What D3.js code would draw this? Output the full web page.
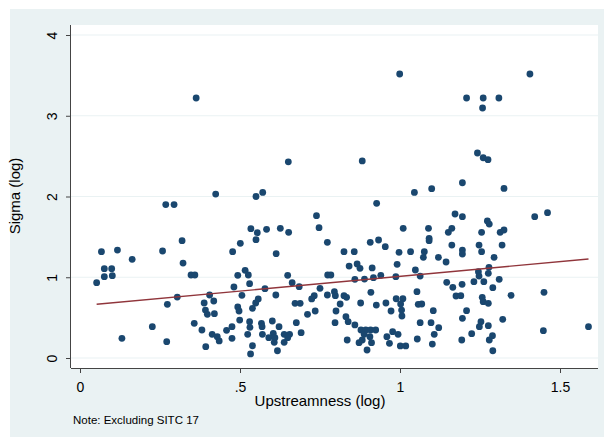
<!DOCTYPE html>
<html>
<head>
<meta charset="utf-8">
<script src="https://cdn.jsdelivr.net/npm/d3@7"></script>
<style>
  html, body { margin: 0; padding: 0; background: #fff; }
  svg { display: block; font-family: "Liberation Sans", Arial, Helvetica, sans-serif; }
</style>
</head>
<body>
<div id="chart"></div>
<script>
// values
var upstreamness = [
  0.363, 0.424, 0.999, 0.651, 0.882, 0.55, 0.571, 1.045, 1.406, 1.208,
  1.26, 1.309, 1.258, 1.242, 1.26, 1.275, 1.099, 1.195, 1.325,
  0.268, 0.294, 0.319, 0.067, 0.117, 0.258, 0.163, 0.322, 0.076, 0.099,
  0.076, 0.101, 0.052, 0.347, 0.359, 0.477, 0.493, 0.481, 0.304, 0.273,
  0.405, 0.418, 0.388, 0.392, 0.398, 0.42, 0.493, 0.357, 0.381, 0.413,
  0.429, 0.435, 0.458, 0.475, 0.475, 0.393, 0.226, 0.131, 0.271,
  0.927, 0.739, 0.747, 0.534, 0.554, 0.55, 0.583, 0.626, 0.652, 0.501,
  0.613, 0.773, 0.825, 0.857, 0.907, 0.933, 0.954, 1.01, 0.997, 1.033,
  0.991, 1.048, 0.841, 0.866, 0.875, 0.913, 0.516, 0.526, 0.649, 0.774,
  0.784, 0.859, 0.889, 0.917, 0.94, 0.987, 0.53, 0.663, 0.685, 0.578,
  0.75, 0.506, 0.612, 0.773, 0.795, 0.798, 0.825, 0.833, 0.909, 1.053,
  0.732, 0.724, 0.557, 0.549, 0.539, 0.497, 0.672, 0.688, 0.813, 0.877,
  0.926, 0.956, 0.988, 1.009, 1.002, 0.972, 1.005, 1.006, 1.057, 0.8,
  0.735, 0.711, 0.831, 0.499, 0.53, 0.567, 0.601, 0.676, 0.838, 0.797,
  0.859, 0.531, 0.569, 0.622, 1.063, 0.878, 0.893, 0.908, 0.924, 0.888,
  0.906, 0.882, 0.872, 0.911, 0.835, 0.897, 0.524, 0.57, 0.604, 0.638,
  0.655, 0.691, 0.59, 0.609, 0.607, 0.638, 0.649, 0.539, 0.533, 0.617,
  0.959, 0.977, 0.994, 0.967, 1.001, 1.018,
  1.421, 1.461, 1.172, 1.195, 1.089, 1.091, 1.091, 1.151, 1.162, 1.273,
  1.279, 1.255, 1.313, 1.325, 1.319, 1.162, 1.247, 1.255, 1.195, 1.195,
  1.076, 1.073, 1.12, 1.144, 1.294, 1.063, 1.245, 1.247, 1.278, 1.276,
  1.231, 1.262, 1.31, 1.146, 1.165, 1.194, 1.29, 1.175, 1.19, 1.257,
  1.26, 1.276, 1.347, 1.45, 1.068, 1.104, 1.208, 1.097, 1.121, 1.195,
  1.253, 1.248, 1.276, 1.321, 1.448, 1.589, 1.054, 1.107, 1.101, 1.193,
  1.224, 1.289, 1.279, 1.29
];
var sigma = [
  3.22, 2.03, 3.517, 2.43, 2.44, 2.0, 2.05, 2.05, 3.517, 3.22,
  3.22, 3.22, 3.096, 2.539, 2.48, 2.456, 2.097, 2.17, 2.1,
  1.9, 1.9, 1.453, 1.317, 1.337, 1.325, 1.222, 1.176, 1.106, 1.106,
  1.007, 1.019, 0.933, 1.028, 1.028, 1.317, 1.024, 0.879, 0.755, 0.665,
  0.78, 0.706, 0.681, 0.594, 0.541, 0.549, 0.632, 0.43, 0.347, 0.293,
  0.264, 0.211, 0.343, 0.388, 0.244, 0.14, 0.388, 0.244, 0.202,
  1.915, 1.762, 1.614, 1.601, 1.552, 1.465, 1.593, 1.606, 1.556, 1.42,
  1.292, 1.432, 1.317, 1.317, 1.432, 1.461, 1.379, 1.606, 1.309, 1.317,
  1.16, 1.09, 1.139, 1.164, 1.11, 1.115, 1.086, 1.028, 1.024, 1.028,
  1.028, 0.974, 0.978, 0.995, 1.024, 1.007, 0.92, 0.933, 0.883, 0.858,
  0.863, 0.776, 0.78, 0.78, 0.821, 0.772, 0.772, 0.751, 0.813, 0.821,
  0.772, 0.731, 0.731, 0.681, 0.615, 0.582, 0.677, 0.677, 0.669, 0.681,
  0.656, 0.681, 0.734, 0.734, 0.669, 0.582, 0.594, 0.52, 0.665, 0.582,
  0.582, 0.541, 0.511, 0.47, 0.45, 0.43, 0.458, 0.437, 0.45, 0.437,
  0.409, 0.38, 0.388, 0.388, 0.437, 0.347, 0.347, 0.347, 0.347, 0.293,
  0.264, 0.223, 0.19, 0.19, 0.223, 0.099, 0.293, 0.293, 0.306, 0.293,
  0.293, 0.314, 0.252, 0.252, 0.194, 0.194, 0.252, 0.152, 0.05, 0.09,
  0.264, 0.326, 0.293, 0.182, 0.149, 0.149,
  1.75, 1.8, 1.783, 1.75, 1.606, 1.482, 1.453, 1.556, 1.606, 1.697,
  1.659, 1.556, 1.556, 1.585, 1.399, 1.399, 1.399, 1.317, 1.337, 1.288,
  1.317, 1.247, 1.247, 1.189, 1.247, 1.015, 1.069, 1.015, 1.123, 1.049,
  0.945, 0.945, 0.974, 0.937, 0.875, 0.912, 0.871, 0.768, 0.772, 0.751,
  0.697, 0.677, 0.776, 0.813, 0.669, 0.586, 0.586, 0.437, 0.375, 0.491,
  0.45, 0.388, 0.4, 0.479, 0.338, 0.388, 0.235, 0.293, 0.173, 0.223,
  0.301, 0.276, 0.223, 0.09
];
// linear fit, end points
var fitX = [0.052, 1.589];
var fitY = [0.665, 1.226];

var xTicks = [0, 0.5, 1, 1.5];
var xTickLabels = ['0', '.5', '1', '1.5'];
var yTicks = [0, 1, 2, 3, 4];
var yTickLabels = ['0', '1', '2', '3', '4'];

var WIDTH = 604;
var HEIGHT = 439;
var BG = '#eaf2f3';
var MARKER = '#1a476f';
var FIT = '#90353b';
var PLOT = { left: 71, right: 598, top: 25, bottom: 368 };

var svg = d3.select('#chart').append('svg')
    .attr('width', WIDTH)
    .attr('height', HEIGHT);

// graph region and plot region
svg.append('rect')
    .attr('x', 10).attr('y', 9)
    .attr('width', WIDTH - 10).attr('height', 428)
    .attr('fill', BG);
svg.append('rect')
    .attr('x', PLOT.left).attr('y', PLOT.top)
    .attr('width', PLOT.right - PLOT.left).attr('height', PLOT.bottom - PLOT.top)
    .attr('fill', '#fff');

var xScale = d3.scaleLinear().domain([0, 1.5]).range([80, 560]);
var yScale = d3.scaleLinear().domain([0, 4]).range([358, 35]);

// grid lines
svg.append('g')
    .selectAll('line')
    .data(yTicks)
    .enter().append('line')
    .attr('x1', PLOT.left).attr('x2', PLOT.right)
    .attr('y1', function (d) { return yScale(d); })
    .attr('y2', function (d) { return yScale(d); })
    .attr('stroke', BG)
    .attr('stroke-width', 1.2);

// axes
var xAxis = svg.append('g')
    .attr('transform', 'translate(0,' + PLOT.bottom + ')')
    .call(d3.axisBottom(xScale)
        .tickValues(xTicks)
        .tickSize(5)
        .tickPadding(9)
        .tickFormat(function (d, i) { return xTickLabels[i]; }));
xAxis.select('.domain').attr('d', 'M' + PLOT.left + ',0.5H' + PLOT.right);
xAxis.selectAll('text').style('font-size', '14px').attr('fill', '#000');

var yAxis = svg.append('g')
    .attr('transform', 'translate(' + PLOT.left + ',0)')
    .call(d3.axisLeft(yScale)
        .tickValues(yTicks)
        .tickSize(5)
        .tickFormat(function (d, i) { return yTickLabels[i]; }));
yAxis.select('.domain').attr('d', 'M-0.5,' + PLOT.top + 'V' + PLOT.bottom);
yAxis.selectAll('text')
    .style('font-size', '14px')
    .attr('fill', '#000')
    .attr('x', null).attr('dy', null)
    .attr('text-anchor', 'middle')
    .attr('transform', 'translate(-13.7,0) rotate(-90)');
svg.selectAll('.domain, .tick line').attr('stroke', '#444');

// scatter
svg.append('g')
    .selectAll('circle')
    .data(upstreamness)
    .enter().append('circle')
    .attr('cx', function (d) { return xScale(d); })
    .attr('cy', function (d, i) { return yScale(sigma[i]); })
    .attr('r', 3.4)
    .attr('fill', MARKER);

// fitted line
svg.append('line')
    .attr('x1', xScale(fitX[0])).attr('y1', yScale(fitY[0]))
    .attr('x2', xScale(fitX[1])).attr('y2', yScale(fitY[1]))
    .attr('stroke', FIT)
    .attr('stroke-width', 1.4);

// titles
svg.append('text')
    .attr('x', 320).attr('y', 406)
    .attr('text-anchor', 'middle')
    .style('font-size', '15px')
    .text('Upstreamness (log)');
svg.append('text')
    .attr('transform', 'translate(20,196) rotate(-90)')
    .attr('text-anchor', 'middle')
    .style('font-size', '15px')
    .text('Sigma (log)');
svg.append('text')
    .attr('x', 73).attr('y', 424)
    .style('font-size', '11.5px')
    .text('Note: Excluding SITC 17');
</script>
</body>
</html>
